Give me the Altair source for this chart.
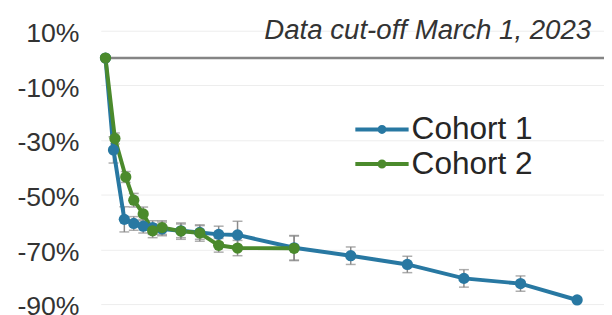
import altair as alt
import pandas as pd

# Cohort 1 (blue)
weeks1 = [0, 1.7, 4, 6, 8, 10, 12, 16, 20, 24, 28, 40, 52, 64, 76, 88, 100]
vals1 = [0, -33.6, -59.0, -60.5, -61.5, -62.0, -62.5, -63.2, -63.8, -64.5, -64.7, -69.4, -72.3, -75.5, -80.6, -82.5, -88.5]
err1 = [0, 4.8, 4.6, 2.5, 2.5, 2.5, 2.5, 2.5, 2.5, 3.0, 5.0, 4.5, 3.2, 3.0, 3.2, 2.8, 0]

# Cohort 2 (green)
weeks2 = [0, 2, 4.3, 6, 8, 10, 12, 16, 20, 24, 28, 40]
vals2 = [0, -29.4, -43.5, -52.0, -57.0, -63.2, -62.0, -63.3, -64.0, -68.5, -69.5, -69.6]
err2 = [0, 2.0, 2.0, 2.5, 2.5, 2.5, 2.5, 3.0, 3.0, 2.5, 2.8, 4.5]

series = ["Cohort 1", "Cohort 2"]
colors = ["#2878a2", "#4b8a2c"]
y_ticks = [10, -10, -30, -50, -70, -90]
note = "Data cut-off March 1, 2023"

rows = []
for name, ws, vs, es in [(series[0], weeks1, vals1, err1), (series[1], weeks2, vals2, err2)]:
    for w, v, e in zip(ws, vs, es):
        rows.append({"series": name, "week": w, "value": v, "lo": v - e, "hi": v + e, "err": e})
df = pd.DataFrame(rows)
df_err = df[df["err"] > 0]

xs = alt.Scale(domain=[-1, 105.7], nice=False, zero=False)
ys = alt.Scale(domain=[-90, 10], nice=False, zero=False)
cs = alt.Scale(domain=series, range=colors)

base = alt.Chart(df)

grid = alt.Chart(pd.DataFrame({"v": y_ticks})).mark_rule(opacity=0).encode(
    y=alt.Y("v:Q", scale=ys, axis=alt.Axis(
        values=y_ticks, labelExpr="datum.value + '%'", title=None, grid=True,
        gridColor="#ededed", gridWidth=1, ticks=False, domain=False,
        labelPadding=22, labelFontSize=27, labelFont="Liberation Sans",
        labelColor="#333333", labelOffset=3)),
)

zero = alt.Chart(pd.DataFrame({"v": [0]})).mark_rule(color="#858585", strokeWidth=2.5).encode(
    y=alt.Y("v:Q", scale=ys)
)

ebar = alt.Chart(df_err).mark_rule(color="#8a8a8a", strokeWidth=1.5).encode(
    x=alt.X("week:Q", scale=xs, axis=None),
    y=alt.Y("lo:Q", scale=ys),
    y2="hi:Q",
)
cap_lo = alt.Chart(df_err).mark_tick(color="#8a8a8a", orient="horizontal", size=10, thickness=1.5).encode(
    x=alt.X("week:Q", scale=xs, axis=None),
    y=alt.Y("lo:Q", scale=ys),
)
cap_hi = alt.Chart(df_err).mark_tick(color="#8a8a8a", orient="horizontal", size=10, thickness=1.5).encode(
    x=alt.X("week:Q", scale=xs, axis=None),
    y=alt.Y("hi:Q", scale=ys),
)

legend = alt.Legend(
    title=None, orient="none", legendX=268, legendY=83, padding=0,
    symbolType="M-1.8,0H1.8M0.17,0A0.17,0.17,0,1,1,-0.17,0A0.17,0.17,0,1,1,0.17,0",
    symbolSize=900, symbolStrokeWidth=4, labelOffset=13,
    labelFontSize=32, labelFont="Liberation Sans", labelColor="#262626",
    rowPadding=2,
)

lines = base.mark_line(strokeWidth=4).encode(
    x=alt.X("week:Q", scale=xs, axis=None),
    y=alt.Y("value:Q", scale=ys),
    color=alt.Color("series:N", scale=cs, legend=legend),
    order="week:Q",
)
points = base.mark_circle(size=130, opacity=1).encode(
    x=alt.X("week:Q", scale=xs, axis=None),
    y=alt.Y("value:Q", scale=ys),
    color=alt.Color("series:N", scale=cs, legend=None),
)

text = alt.Chart(pd.DataFrame({"t": [note]})).mark_text(
    align="right", baseline="alphabetic", fontSize=28, fontStyle="italic",
    font="Liberation Sans", color="#333333",
).encode(x=alt.value(497), y=alt.value(8), text="t:N")

chart = alt.layer(grid, zero, ebar, cap_lo, cap_hi, lines, points, text).properties(
    width=510, height=277,
    padding={"left": 94, "top": 21, "right": 0, "bottom": 9},
    autosize=alt.AutoSizeParams(type="none"),
).configure_view(stroke=None)

chart.save("out.html", embed_options={"renderer": "svg", "actions": False})
